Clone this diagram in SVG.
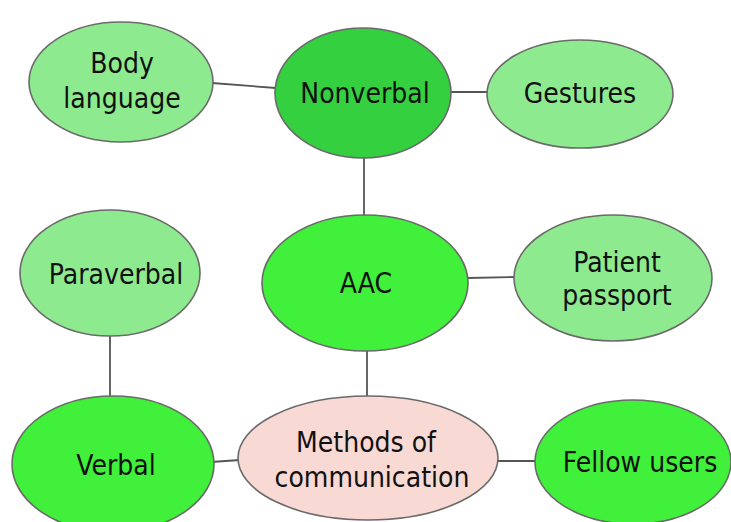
<svg xmlns="http://www.w3.org/2000/svg" width="731" height="522" viewBox="0 0 731 522">
<style>
.n{stroke:#6a6a6a;stroke-width:1.6}
.lg{fill:#8eea8e}
.dg{fill:#35d040}
.bg{fill:#40f03a}
.pk{fill:#f8d9d4}
.e line{stroke:#555;stroke-width:1.8}
text{font-family:"DejaVu Sans Condensed","DejaVu Sans",sans-serif;font-stretch:condensed;font-size:28px;fill:#111;text-anchor:middle}
</style>
<rect width="731" height="522" fill="#fff"/>
<g class="e">
<line x1="212" y1="83" x2="276" y2="88"/>
<line x1="449" y1="92" x2="487" y2="92"/>
<line x1="364" y1="157" x2="364" y2="216"/>
<line x1="467" y1="278" x2="514" y2="277"/>
<line x1="110" y1="336" x2="110" y2="398"/>
<line x1="367" y1="350" x2="367" y2="396"/>
<line x1="211" y1="462" x2="240" y2="460"/>
<line x1="497" y1="461" x2="537" y2="461"/>
</g>
<g id="body"><ellipse class="n lg" cx="121" cy="82" rx="92" ry="60"/><text x="122" y="73">Body</text><text x="122" y="108">language</text></g>
<g id="nonverbal"><ellipse class="n dg" cx="363" cy="93" rx="88" ry="65"/><text x="365" y="103">Nonverbal</text></g>
<g id="gestures"><ellipse class="n lg" cx="580" cy="94" rx="93" ry="54"/><text x="580" y="103">Gestures</text></g>
<g id="paraverbal"><ellipse class="n lg" cx="110" cy="273" rx="90" ry="63"/><text x="116" y="284">Paraverbal</text></g>
<g id="aac"><ellipse class="n bg" cx="365" cy="283" rx="103" ry="68"/><text x="366" y="293">AAC</text></g>
<g id="patient"><ellipse class="n lg" cx="613" cy="278" rx="99" ry="63"/><text x="617" y="272">Patient</text><text x="617" y="305">passport</text></g>
<g id="verbal"><ellipse class="n bg" cx="113" cy="464" rx="101" ry="68"/><text x="116" y="475">Verbal</text></g>
<g id="methods"><ellipse class="n pk" cx="368" cy="458" rx="130" ry="62"/><text x="366" y="452">Methods of</text><text x="372" y="487">communication</text></g>
<g id="fellow"><ellipse class="n bg" cx="633" cy="462" rx="98" ry="62"/><text x="640" y="472">Fellow users</text></g>
</svg>
